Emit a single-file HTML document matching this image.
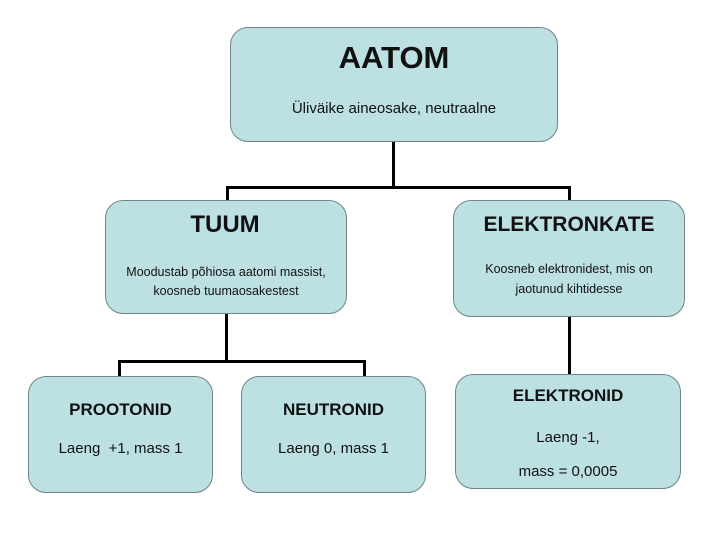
<!DOCTYPE html>
<html><head><meta charset="utf-8"><style>
body{margin:0;width:720px;height:540px;background:#fff;position:relative;overflow:hidden;font-family:"Liberation Sans",sans-serif;color:#111}
.b{position:absolute;background:#bde0e3;border:1px solid #6f8487;border-radius:18px;box-sizing:border-box}
.t{position:absolute;left:0;right:0;text-align:center;white-space:nowrap}
.l{position:absolute;background:#000}
</style></head><body>
<div class="l" style="left:392px;top:141px;width:3px;height:48px"></div>
<div class="l" style="left:226px;top:186px;width:345px;height:3px"></div>
<div class="l" style="left:226px;top:186px;width:3px;height:15px"></div>
<div class="l" style="left:568px;top:186px;width:3px;height:15px"></div>
<div class="l" style="left:225px;top:313px;width:3px;height:50px"></div>
<div class="l" style="left:118px;top:360px;width:248px;height:3px"></div>
<div class="l" style="left:118px;top:360px;width:3px;height:17px"></div>
<div class="l" style="left:363px;top:360px;width:3px;height:17px"></div>
<div class="l" style="left:568px;top:316px;width:3px;height:60px"></div>

<div class="b" style="left:230px;top:27px;width:328px;height:115px">
<div class="t" style="top:12px;font-size:31px;font-weight:bold">AATOM</div>
<div class="t" style="top:72px;font-size:15px">Üliväike aineosake, neutraalne</div></div>

<div class="b" style="left:105px;top:200px;width:242px;height:114px">
<div class="t" style="top:10px;left:-2px;font-size:24px;font-weight:bold">TUUM</div>
<div class="t" style="top:62px;font-size:12.5px;line-height:19px">Moodustab põhiosa aatomi massist,<br>koosneb tuumaosakestest</div></div>

<div class="b" style="left:453px;top:200px;width:232px;height:117px">
<div class="t" style="top:12px;font-size:21px;font-weight:bold">ELEKTRONKATE</div>
<div class="t" style="top:58px;font-size:12.5px;line-height:20px">Koosneb elektronidest, mis on<br>jaotunud kihtidesse</div></div>

<div class="b" style="left:28px;top:376px;width:185px;height:117px">
<div class="t" style="top:23px;font-size:17px;font-weight:bold">PROOTONID</div>
<div class="t" style="top:63px;font-size:15px">Laeng &nbsp;+1, mass 1</div></div>

<div class="b" style="left:241px;top:376px;width:185px;height:117px">
<div class="t" style="top:23px;font-size:17px;font-weight:bold">NEUTRONID</div>
<div class="t" style="top:63px;font-size:15px">Laeng 0, mass 1</div></div>

<div class="b" style="left:455px;top:374px;width:226px;height:115px">
<div class="t" style="top:11px;font-size:17px;font-weight:bold">ELEKTRONID</div>
<div class="t" style="top:54px;font-size:15px">Laeng -1,</div>
<div class="t" style="top:88px;font-size:15px">mass = 0,0005</div></div>
</body></html>
